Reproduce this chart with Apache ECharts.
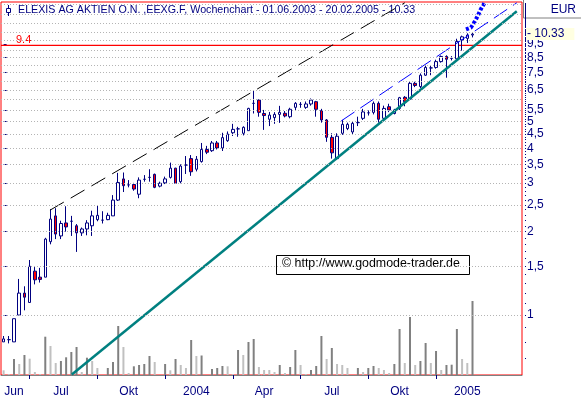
<!DOCTYPE html>
<html>
<head>
<meta charset="utf-8">
<script src="https://cdn.jsdelivr.net/npm/echarts@6/dist/echarts.min.js"></script>
<style>
  html, body { margin: 0; padding: 0; background: #fff; }
  #chart { width: 581px; height: 398px; }
</style>
</head>
<body>
<div id="chart"></div>
<script>
// Wochenkerzen ab KW 26.05.2003 (91 Wochen), danach leere Wochen bis Achsenende
const opens = [0.80, 0.815, 0.80, 1.00, 1.20, 1.11, 1.44, 1.37, 1.37, 1.84,
  2.28, 1.93, 2.15, 2.18, 2.10, 1.98, 2.045, 2.10, 2.21, 2.20,
  2.21, 2.28, 2.60, 3.10, 2.95, 2.96, 2.73, 3.09, 3.14, 3.22,
  2.92, 3.00, 3.14, 3.39, 3.03, 3.48, 3.67, 3.36, 3.58, 3.96,
  3.92, 4.18, 4.01, 4.26, 4.55, 4.70, 4.53, 4.63, 5.81, 5.97,
  5.34, 5.09, 5.16, 5.30, 5.35, 5.20, 5.62, 5.76, 5.62, 5.78,
  5.89, 5.47, 5.06, 4.38, 3.67, 4.53, 4.71, 4.58, 4.95, 5.13,
  5.37, 5.39, 5.81, 5.13, 5.65, 5.34, 5.57, 6.11, 6.02, 6.86,
  6.68, 7.34, 7.80, 7.83, 8.22, 8.58, 8.44, 8.41, 9.83, 9.97,
  10.25]
const closes = [0.82, 0.815, 0.97, 1.20, 1.16, 1.50, 1.34, 1.345, 1.88, 2.22,
  1.96, 2.14, 2.08, 2.18, 1.98, 2.045, 2.15, 2.28, 2.29, 2.20,
  2.29, 2.60, 3.01, 2.93, 2.95, 2.85, 3.07, 3.09, 3.14, 2.89,
  2.99, 3.10, 3.39, 2.99, 3.45, 3.48, 3.29, 3.65, 3.96, 3.87,
  4.18, 4.01, 4.37, 4.50, 4.68, 4.70, 4.76, 5.57, 5.81, 5.39,
  5.25, 5.27, 5.30, 5.39, 5.23, 5.53, 5.81, 5.76, 5.78, 5.97,
  5.53, 5.06, 4.38, 3.85, 4.42, 4.88, 4.88, 4.92, 4.95, 5.41,
  5.37, 5.81, 5.09, 5.57, 5.50, 5.50, 6.09, 5.89, 6.86, 6.74,
  7.34, 7.83, 7.80, 8.22, 8.58, 8.38, 8.44, 9.71, 10.10, 10.25,
  10.33]
const lows = [0.80, 0.79, 0.80, 1.00, 1.04, 1.11, 1.29, 1.31, 1.37, 1.80,
  1.88, 1.88, 2.00, 1.93, 1.69, 1.93, 1.94, 1.93, 2.18, 2.14,
  2.20, 2.28, 2.58, 2.78, 2.89, 2.81, 2.64, 3.03, 3.03, 2.87,
  2.89, 2.97, 3.11, 2.99, 2.99, 3.23, 3.18, 3.30, 3.55, 3.81,
  3.88, 3.96, 3.91, 4.22, 4.43, 4.40, 4.45, 4.63, 5.34, 5.20,
  4.66, 4.81, 4.90, 4.94, 5.17, 5.13, 5.48, 5.60, 5.55, 5.70,
  5.20, 4.95, 4.22, 3.67, 3.63, 4.47, 4.65, 4.50, 4.81, 5.06,
  5.25, 5.30, 4.95, 5.10, 5.40, 5.30, 5.50, 5.67, 5.98, 6.65,
  6.60, 7.30, 7.34, 7.75, 8.15, 7.19, 8.30, 8.30, 9.00, 9.60,
  10.05]
const highs = [0.84, 0.84, 0.97, 1.35, 1.27, 1.58, 1.49, 1.48, 1.90, 2.41,
  2.43, 2.19, 2.47, 2.28, 2.13, 2.07, 2.20, 2.38, 2.49, 2.37,
  2.34, 2.71, 3.26, 3.27, 3.07, 3.00, 3.14, 3.20, 3.36, 3.24,
  3.03, 3.16, 3.55, 3.40, 3.50, 3.75, 3.78, 3.75, 4.18, 4.08,
  4.25, 4.25, 4.55, 4.60, 4.90, 4.78, 4.80, 5.60, 6.45, 6.00,
  5.50, 5.41, 5.40, 5.69, 5.45, 5.60, 5.87, 5.87, 5.90, 6.05,
  5.93, 5.55, 5.10, 4.53, 4.53, 5.06, 4.95, 5.00, 5.20, 5.55,
  5.48, 5.90, 5.90, 5.70, 5.79, 5.55, 6.13, 6.17, 6.95, 6.95,
  7.45, 7.95, 7.99, 8.35, 8.65, 8.66, 8.60, 9.94, 10.20, 10.40,
  10.50]
const volumes = [4.7, 1, 16, 11, 20, 16.3, 3, 1, 38.3, 29,
  12, 14, 17.7, 23, 28, 3, 17.3, 14, 7, 0,
  7, 13, 49, 28, 2, 8.7, 10, 11, 19, 13,
  0, 11, 4.7, 16, 10, 7, 35, 19, 19.5, 0,
  6, 7, 9, 8.7, 1, 25, 20, 33, 36, 8,
  5, 5, 3, 10, 2, 8, 25, 10, 1, 5,
  9, 39, 16, 27, 11, 10, 7, 0, 7, 3,
  7, 9, 7, 5, 2, 11, 46, 12, 58, 10,
  14, 32, 12, 24, 5, 10, 10.3, 46, 16, 12,
  74]

// Achsenbeschriftung
const labelIdx = [2, 11, 24, 37, 50, 63, 76, 89]
const labelText = ['Jun', 'Jul', 'Okt', '2004', 'Apr', 'Jul', 'Okt', '2005']
const quarterTickIdx = [5, 18, 31, 44, 57, 70, 83]
const priceLabels = [1, 1.5, 2, 2.5, 3, 3.5, 4, 4.5, 5, 5.5, 6.5, 7.5, 8.5, 9.5]
const gridValues = [1, 1.5, 2, 2.5, 3, 3.5, 4, 4.5, 5, 5.5, 6, 6.5, 7, 7.5, 8, 8.5, 9, 9.8, 10.5, 11.3, 12.2, 13.2]

// Trendlinien [Woche, Kurs]
const supportLine = [[13.1, 0.61], [98.5, 12.5]]
const resistLine = [[8.9, 2.39], [77, 13.4]]
const channelLine = [[64.8, 5.02], [98.5, 13.4]]
const projection = [[88.75, 10.74], [89.7, 10.91], [90.5, 11.52], [91.1, 12.13], [91.6, 12.71], [92.4, 13.49]]

const markLevel = 9.4
const lastClose = 10.33

const weekCount = 100
const startWeek = new Date(2003, 4, 26)
const weeks = []
for (let i = 0; i < weekCount; i++) {
  const d = new Date(startWeek.getTime() + i * 7 * 86400000)
  weeks.push(('0' + d.getDate()).slice(-2) + '.' + ('0' + (d.getMonth() + 1)).slice(-2) + '.' + d.getFullYear())
}

const minorTicks = []
for (let k = 7; k <= 134; k++) minorTicks.push(k / 10)

const candleData = opens.map((o, i) => [o, closes[i], lows[i], highs[i]])

const yMin = 0.6075
const yMax = 13.49
const navy = '#000080'
const font = 'Liberation Sans'

const myChart = echarts.init(document.getElementById('chart'))
const option = {
  animation: false,
  backgroundColor: '#ffffff',
  textStyle: { fontFamily: font },
  grid: {
    left: 1, top: 2, right: 59, bottom: 23,
    show: true, borderColor: '#ff0000', borderWidth: 1, backgroundColor: '#ffffff'
  },
  xAxis: [
    {
      type: 'category',
      data: weeks,
      boundaryGap: true,
      offset: 2,
      axisLine: { show: true, lineStyle: { color: '#808080' } },
      axisTick: {
        show: true,
        alignWithLabel: true,
        length: 4,
        interval: (idx) => quarterTickIdx.includes(idx),
        lineStyle: { color: navy }
      },
      axisLabel: {
        interval: (idx) => labelIdx.includes(idx),
        formatter: (val, idx) => labelText[labelIdx.indexOf(idx)],
        color: navy,
        fontSize: 12,
        margin: 9
      },
      splitLine: { show: false }
    },
    { type: 'value', min: -0.5, max: weekCount - 0.5, show: false }
  ],
  yAxis: [
    {
      type: 'log', logBase: 10, min: yMin, max: yMax,
      position: 'right', offset: 3,
      axisLine: { show: false },
      axisTick: { show: true, customValues: priceLabels, length: 3, lineStyle: { color: navy } },
      axisLabel: {
        customValues: priceLabels,
        formatter: (v) => String(v).replace('.', ','),
        color: navy, fontSize: 12, margin: 2
      },
      splitLine: { show: false }
    },
    {
      type: 'log', logBase: 10, min: yMin, max: yMax,
      position: 'right', offset: 3,
      axisLine: { show: false },
      axisTick: { show: true, customValues: minorTicks, length: 1, lineStyle: { color: navy } },
      axisLabel: { show: false },
      splitLine: { show: false }
    },
    { type: 'value', min: 0, max: 373, show: false }
  ],
  graphic: [
    { type: 'line', shape: { x1: 8.5, y1: 5, x2: 8.5, y2: 16 }, style: { stroke: navy, lineWidth: 1 } },
    { type: 'rect', shape: { x: 6.5, y: 8.5, width: 4, height: 4 }, style: { fill: '#fff', stroke: navy, lineWidth: 1 } },
    {
      type: 'text', left: 18, top: 5,
      style: { text: 'ELEXIS AG AKTIEN O.N. ,EEXG.F, Wochenchart - 01.06.2003 - 20.02.2005 - 10.33', fill: navy, font: '10.7px "Liberation Sans"' }
    },
    { type: 'text', left: 16, top: 34, style: { text: String(markLevel), fill: '#ff0000', font: '11px "Liberation Sans"' } },
    { type: 'rect', shape: { x: 523.5, y: -1, width: 60, height: 19 }, style: { fill: '#fff', stroke: '#808080', lineWidth: 1 } },
    { type: 'text', right: 5, top: 4, style: { text: 'EUR', fill: navy, font: '12px "Liberation Sans"' } },
    { type: 'rect', shape: { x: 276.5, y: 255.5, width: 193, height: 19 }, style: { fill: '#fff', stroke: '#000', lineWidth: 1 } },
    { type: 'text', left: 282, top: 258, style: { text: '\u00a9 http://www.godmode-trader.de', fill: '#000', font: '12.4px "Liberation Sans"' } }
  ],
  series: [
    {
      // gepunktetes Kursraster
      name: 'Raster',
      type: 'line',
      xAxisIndex: 1,
      yAxisIndex: 0,
      data: [],
      silent: true,
      z: 0,
      markLine: {
        silent: true,
        symbol: ['none', 'none'],
        label: { show: false },
        lineStyle: { color: '#b4b4b4', width: 1, type: [1, 2] },
        data: gridValues.map((v) => ({ yAxis: v }))
      }
    },
    {
      name: 'Volumen',
      type: 'bar',
      xAxisIndex: 0,
      yAxisIndex: 2,
      data: volumes,
      barWidth: 2,
      silent: true,
      itemStyle: {
        color: (p) => (p.dataIndex > 0 && volumes[p.dataIndex] > volumes[p.dataIndex - 1]) ? '#808080' : '#c0c0c0'
      },
      z: 1
    },
    {
      // Marke 9.4 quer über das ganze Chartfeld
      name: 'Marke',
      type: 'line',
      xAxisIndex: 1,
      yAxisIndex: 0,
      data: [[-0.5, markLevel], [weekCount - 0.5, markLevel]],
      symbol: 'none',
      silent: true,
      lineStyle: { color: '#ff0000', width: 1.2 },
      z: 2
    },
    {
      name: 'Kurs',
      type: 'candlestick',
      xAxisIndex: 0,
      yAxisIndex: 0,
      data: candleData,
      barWidth: 3,
      silent: true,
      itemStyle: {
        color: '#ffffff', color0: '#ff0000',
        borderColor: navy, borderColor0: navy, borderWidth: 1
      },
      markLine: {
        silent: true,
        symbol: ['none', 'none'],
        data: [
          {
            yAxis: lastClose,
            lineStyle: { color: 'rgba(0,0,0,0)', width: 0 },
            label: {
              show: true, position: 'end', formatter: '- ' + lastClose.toFixed(2),
              color: navy, fontSize: 12, distance: 4,
              backgroundColor: '#ffffe1', padding: [0, 10, 0, 1]
            }
          }
        ]
      },
      z: 3
    },
    {
      name: 'Unterstützung',
      type: 'line', xAxisIndex: 1, yAxisIndex: 0,
      data: supportLine, symbol: 'none', silent: true,
      lineStyle: { color: '#008080', width: 2.5 }, z: 4
    },
    {
      name: 'Widerstand',
      type: 'line', xAxisIndex: 1, yAxisIndex: 0,
      data: resistLine, symbol: 'none', silent: true,
      lineStyle: { color: '#000000', width: 1, type: [16, 8] }, z: 4
    },
    {
      name: 'Trendkanal',
      type: 'line', xAxisIndex: 1, yAxisIndex: 0,
      data: channelLine, symbol: 'none', silent: true,
      lineStyle: { color: '#0000ff', width: 1, type: [16, 7] }, z: 4
    },
    {
      name: 'Projektion',
      type: 'line', xAxisIndex: 1, yAxisIndex: 0,
      data: projection, symbol: 'none', silent: true,
      lineStyle: { color: '#0000ff', width: 4, type: [3, 2] }, z: 4
    }
  ]
}
myChart.setOption(option)
</script>
</body>
</html>
